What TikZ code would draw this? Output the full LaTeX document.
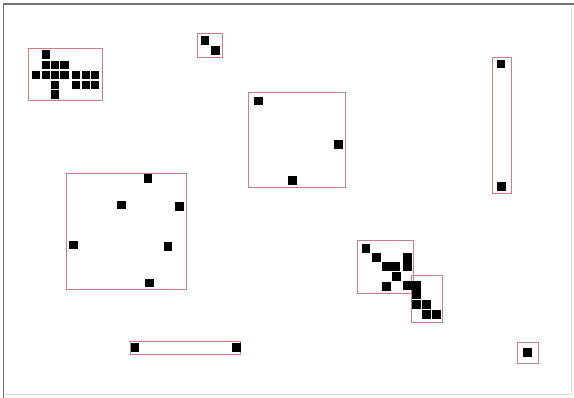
\documentclass[tikz,border=0pt]{standalone}
\usepackage{tikz}
\usetikzlibrary{positioning}
\definecolor{boxred}{RGB}{205,125,130}

\begin{document}
\begin{tikzpicture}[
  x=1pt, y=-1pt,
  cell/.style={rectangle, fill=black, inner sep=0pt, minimum size=8.6pt},
  group/.style={draw=boxred, line width=0.8pt},
  frame/.style={draw=black!55, line width=1.3pt},
  shade/.style={draw=black!15, line width=0.8pt}
]
  \useasboundingbox (0,0) rectangle (574,398);
  \fill[white] (0,0) rectangle (574,398);
  \coordinate (tl) at (3.5,4);
  \coordinate (tr) at (574,4);
  \coordinate (bl) at (3.5,398);
  \coordinate (br) at (571,394);
  \draw[frame] (bl) -- (tl) -- (tr);
  \draw[shade] (5,394) -- (br) -- (571,6);
  \draw[group] (28,48.5) rectangle (102,100.5);
  \draw[group] (197,33) rectangle (222,57);
  \draw[group] (248.5,92.5) rectangle (345,187);
  \draw[group] (492,57) rectangle (511.5,193);
  \draw[group] (66,173.5) rectangle (186,289);
  \draw[group] (357.5,240.5) rectangle (413,293);
  \draw[group] (411.5,275) rectangle (442,322);
  \draw[group] (130,341.5) rectangle (240.5,354);
  \draw[group] (517.5,342.5) rectangle (538.5,363);
  \foreach \x/\y [count=\i] in {46/54.3, 46/65, 55/65, 64.5/65,
      36/75, 46/75, 55/75, 64.5/75, 76/75, 86/75, 95/75,
      55/85, 76/85, 86/85, 95/85, 55/94.3}
    \node[cell] (a\i) at (\x,\y) {};
  \foreach \x/\y [count=\i] in {205/40.3, 215.7/50.5}
    \node[cell] (b\i) at (\x,\y) {};
  \foreach \x/\y [count=\i] in {258.3/101.2, 338.5/144.8, 292.2/180.8}
    \node[cell] (c\i) at (\x,\y) {};
  \foreach \x/\y [count=\i] in {501/64.2, 501.5/186.7}
    \node[cell] (d\i) at (\x,\y) {};
  \foreach \x/\y [count=\i] in {147.8/178.8, 121.2/205, 179.5/206.7,
      73.3/245, 167.8/246.7, 149.7/283}
    \node[cell] (e\i) at (\x,\y) {};
  \foreach \x/\y [count=\i] in {365.8/248.8, 376.2/257.8, 386.2/266.7,
      395.3/266.7, 407.2/257.8, 407.2/266.7, 396.2/276.7, 386.2/286.7,
      407.2/285.5, 416.2/285.5, 416.2/294.5, 416.2/304.5, 426.2/304.5,
      426.2/314.5, 436.2/314.5}
    \node[cell] (f\i) at (\x,\y) {};
  \foreach \x/\y [count=\i] in {135/347.7, 236.2/347.7}
    \node[cell] (g\i) at (\x,\y) {};
  \node[cell] (h1) at (527.7,352.7) {};
\end{tikzpicture}
\end{document}
